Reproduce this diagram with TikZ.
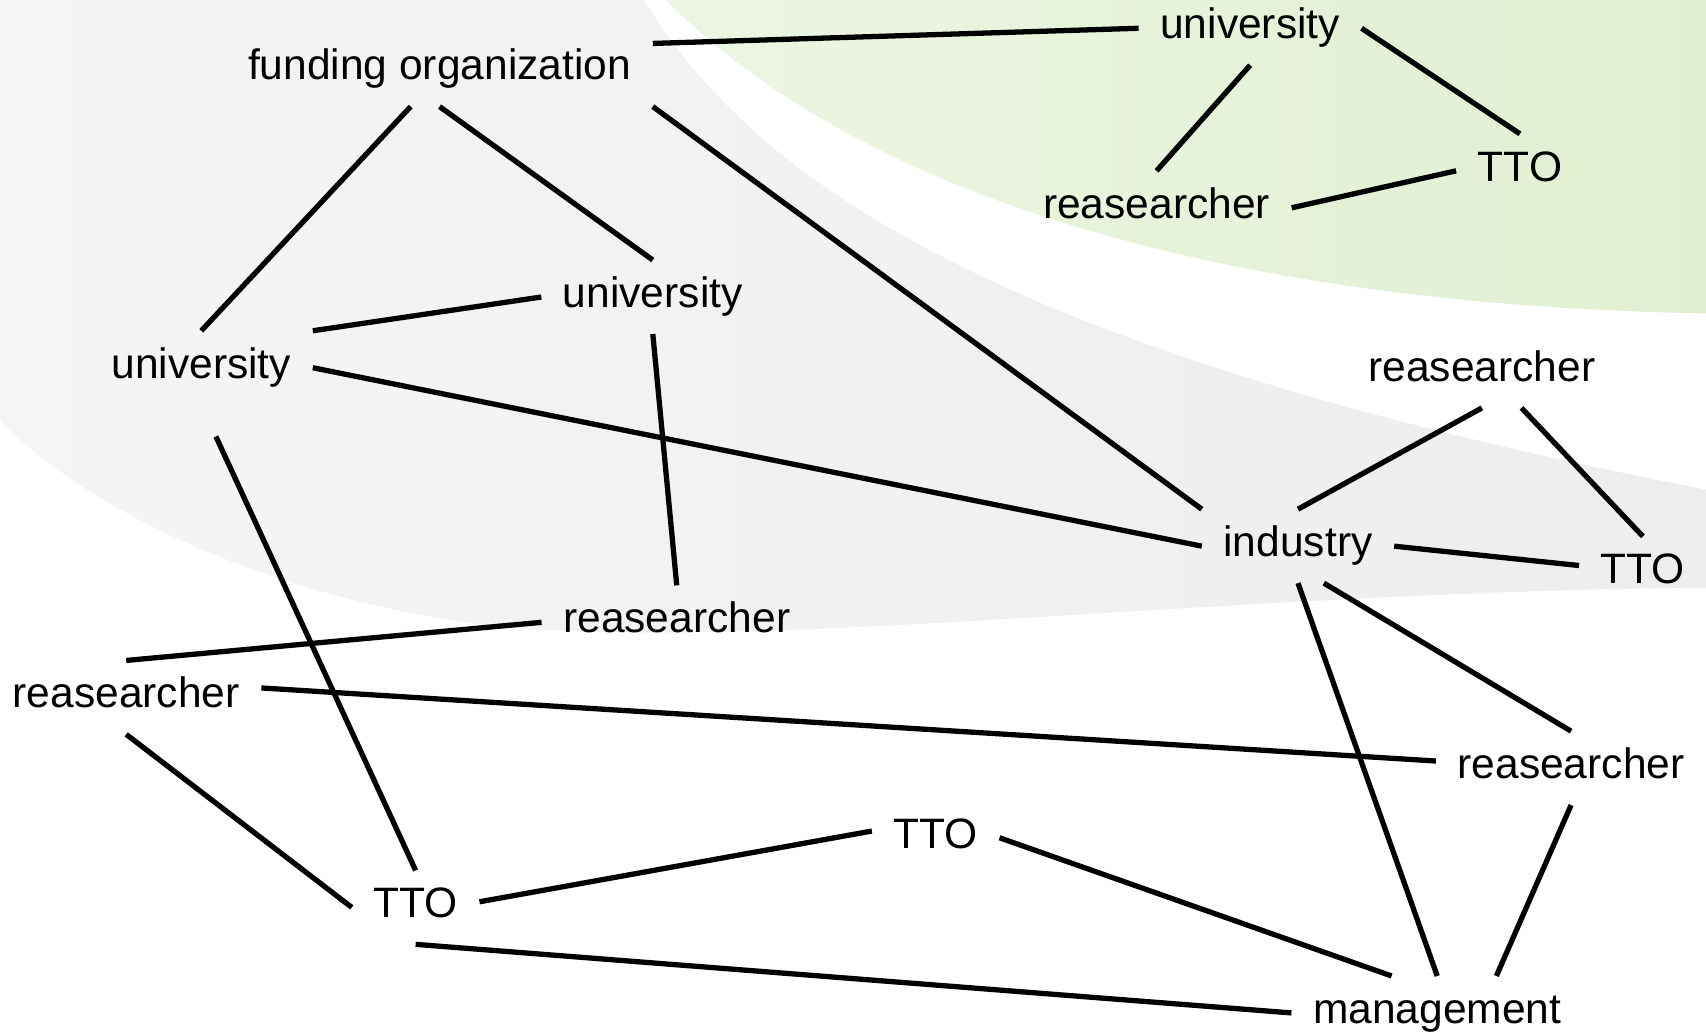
\documentclass[tikz,border=0pt]{standalone}
\usepackage{fontspec}
\setmainfont{Liberation Sans}
\begin{document}
\begin{tikzpicture}[x=0.01088cm,y=-0.01088cm,
    lbl/.style={inner xsep=0.21cm,inner ysep=0.15cm,text height=0.316cm,text depth=0.109cm,
                font=\fontsize{12.1}{14}\selectfont},
    link/.style={line width=1.5pt}]
  \useasboundingbox (0,0) rectangle (1568,950);
  \fill[white] (0,0) rectangle (1568,950);
  % background swooshes
  \shade[left color=black!4,right color=black!7]
    (0,0) -- (592,0) .. controls (700,180) and (950,330) .. (1568,450)
    -- (1568,540) .. controls (1100,545) and (700,600) .. (450,575)
    .. controls (250,550) and (80,470) .. (0,386) -- cycle;
  \shade[left color=green!30!olive!11,right color=green!30!olive!18]
    (612,0) -- (1568,0) -- (1568,288) .. controls (1100,280) and (780,170) .. (612,0) -- cycle;

  \node[lbl] (fund)   at (404,64)   {funding organization};
  \node[lbl] (univTR) at (1149,26)  {university};
  \node[lbl] (resT)   at (1063,191) {reasearcher};
  \node[lbl] (ttoTR)  at (1397,157) {TTO};
  \node[lbl] (univM)  at (600,273)  {university};
  \node[lbl] (univL)  at (185,338)  {university};
  \node[lbl] (resR)   at (1362,341) {reasearcher};
  \node[lbl] (ind)    at (1193,502) {industry};
  \node[lbl] (ttoR)   at (1510,527) {TTO};
  \node[lbl] (resM)   at (622,572)  {reasearcher};
  \node[lbl] (resL)   at (116,641)  {reasearcher};
  \node[lbl] (resRL)  at (1444,706) {reasearcher};
  \node[lbl] (ttoM)   at (860,770)  {TTO};
  \node[lbl] (ttoL)   at (382,834)  {TTO};
  \node[lbl] (mgmt)   at (1321,931) {management};

  \draw[link] (fund.7) -- (univTR.west);
  \draw[link] (fund.232) -- (univL.north);
  \draw[link] (fund.south) -- (univM.north);
  \draw[link] (fund.south east) -- (ind.north west);
  \draw[link] (univTR.south) -- (resT.north);
  \draw[link] (univTR.east) -- (ttoTR.north);
  \draw[link] (resT.east) -- (ttoTR.west);
  \draw[link] (univL.north east) -- (univM.west);
  \draw[link] (univL.east) -- (ind.west);
  \draw[link,shorten <=0.35cm] (univL.south) -- (ttoL.north);
  \draw[link] (univM.south) -- (resM.north);
  \draw[link] (resR.south) -- (ind.north);
  \draw[link] (resR.317) -- (ttoR.north);
  \draw[link] (ind.east) -- (ttoR.173);
  \draw[link] (ind.305) -- (resRL.north);
  \draw[link] (ind.south) -- (mgmt.north);
  \draw[link] (resM.west) -- (resL.north);
  \draw[link] (resL.4) -- (resRL.177);
  \draw[link] (resL.south) -- (ttoL.west);
  \draw[link] (resRL.south) -- (mgmt.32);
  \draw[link] (ttoM.174) -- (ttoL.5);
  \draw[link] (ttoM.east) -- (mgmt.141);
  \draw[link] (ttoL.south) -- (mgmt.west);
\end{tikzpicture}
\end{document}
